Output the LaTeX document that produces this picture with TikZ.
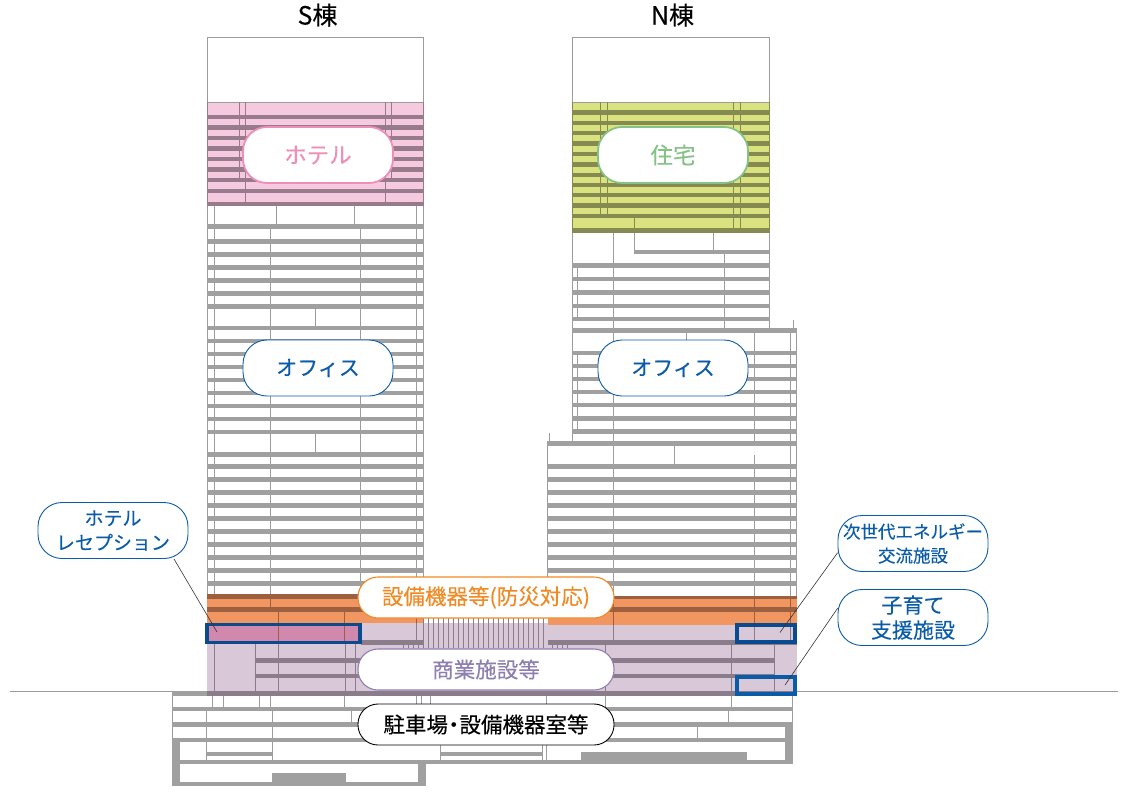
\documentclass[tikz,border=0pt]{standalone}
\usepackage{fontspec}
\setmainfont{Noto Sans CJK JP}[FakeBold=0.25]
\definecolor{bandgray}{HTML}{A0A0A0}
\definecolor{wallgray}{HTML}{9C9C9C}
\definecolor{hotelpink}{HTML}{F5C9DE}
\definecolor{hotelband}{HTML}{977A8C}
\definecolor{hotelline}{HTML}{EE8FB9}
\definecolor{homegreen}{HTML}{D9E27F}
\definecolor{homeband}{HTML}{858A50}
\definecolor{homeline}{HTML}{86C285}
\definecolor{plantorange}{HTML}{F19561}
\definecolor{plantband}{HTML}{9C5F40}
\definecolor{plantline}{HTML}{F08A24}
\definecolor{shopmauve}{HTML}{D9C8D8}
\definecolor{shopband}{HTML}{8B7C8B}
\definecolor{shopline}{HTML}{8E7FB0}
\definecolor{deskpink}{HTML}{D088AC}
\definecolor{officeblue}{HTML}{0B5CA8}
\definecolor{darkblue}{HTML}{0A4A8F}
\begin{document}
\begin{tikzpicture}[x=1pt,y=-1pt]
        \useasboundingbox (0,0) rectangle (1129,796);
        \begin{scope}
            \tikzset{wall/.style = {
                draw=wallgray,
                line width=0.8pt} }
            \tikzset{band/.style = {
                draw=bandgray,
                line width=4.7pt} }
            \tikzset{pill/.style = {
                draw,
                fill=white,
                rounded corners=24pt,
                minimum width=150pt,
                minimum height=56pt,
                inner sep=0pt,
                align=center,
                font=\fontsize{21}{25}\selectfont} }
            \tikzset{widepill/.style = {
                pill,
                rounded corners=20pt,
                minimum width=256pt,
                minimum height=41pt} }
            \tikzset{marker/.style = {
                draw=officeblue,
                line width=3.2pt} }
            \tikzset{leader/.style = {
                draw=black!80,
                line width=0.6pt} }
                % ground line
                \draw[draw=wallgray, line width=0.7pt] (10,691) -- (1118,691);
                % coloured floors
                \fill[shopmauve] (207,623) rectangle (797,696);
                \fill[hotelpink] (207.3,102) rectangle (423.5,206);
                \fill[homegreen] (572.3,102.5) rectangle (769.5,232.5);
                \fill[plantorange] (207.3,594.5) rectangle (423.5,623);
                \fill[plantorange] (547.5,596) rectangle (796.7,625);
                \fill[deskpink] (207,624) rectangle (361,643);
                % S tower
                \foreach \x/\a/\b in {207.3/37/594,423.5/37/594,214.3/206/594,416.3/206/594,276.3/206/224,354.3/206/224,
                    270.3/224/594,360.3/224/594,315.3/309/326,315.3/434/452}{
                    \draw[wall] (\x,\a) -- (\x,\b);
                }
                \draw[wall] (207.3,37) -- (423.5,37);
                \draw[wall] (207.3,102) -- (423.5,102);
                \foreach \y in {226.5,241.5,254.5,267.5,280.5,293.5,306.5,328,341,354,367,380,393,406,419,432,
                    454.5,466.5,479.5,492.5,505.5,518.5,531.5,544.5,557.5,570.5,583.5}{
                    \draw[band] (207,\y) -- (423.5,\y);
                }
                % hotel floors
                \foreach \x/\a/\b in {207.3/102/206,423.5/102/206,239.5/102/178,391.5/102/178,245.5/102/204,385.5/102/204}{
                    \draw[wall, draw=hotelband] (\x,\a) -- (\x,\b);
                }
                \foreach \y in {117,127.5,138,148.5,159,169.5,180,191,204}{
                    \draw[band, draw=hotelband] (207,\y) -- (423.5,\y);
                }
                % N tower
                \foreach \x/\a/\b in {572.3/37/441,769.5/37/328,613.3/232/594,634.7/232/250,713.3/232/250,724.3/254/328,577.3/268/317,
                    793.3/320/328,796.7/328/596,790.7/333/596,754.7/333/441,754.7/455/596,686.7/333/351,577.3/355/429,
                    549.3/433/441,547.3/446/596,674.3/446/464}{
                    \draw[wall] (\x,\a) -- (\x,\b);
                }
                \draw[wall] (572.3,37) -- (769.5,37);
                \draw[wall] (572.3,102) -- (769.5,102);
                \draw[band] (634,252) -- (769.5,252);
                \foreach \y in {265.5,279,292.5,306,319}{
                    \draw[band] (572.3,\y) -- (769.5,\y);
                }
                \foreach \y in {330.5,353,366,379,392,405,418.5}{
                    \draw[band] (572.3,\y) -- (796.7,\y);
                }
                \draw[band] (572.3,431.5) -- (796.7,431.5);
                \foreach \y in {443.5,466.5,479.5,492.5,505.5,518.5,531.5,544.5,557.5,570.5,583.5}{
                    \draw[band] (547.3,\y) -- (796.7,\y);
                }
                % housing floors
                \foreach \x/\a/\b in {572.3/102/232,769.5/102/232,600.3/102/214,607.7/102/214,733.7/102/228,740.3/102/228,634.7/216/228}{
                    \draw[wall, draw=homeband] (\x,\a) -- (\x,\b);
                }
                \foreach \y in {112.5,123,133,143.5,154,164.5,175,185,195,205.5,216,230.3}{
                    \draw[band, draw=homeband] (572.3,\y) -- (769.5,\y);
                }
                % plant floors
                \foreach \x/\a/\b in {270.3/594/612,278.3/612/643,344.3/612/643,416.3/594/623,423.5/594/623,613.3/596/625,754.7/596/625,790.7/596/625}{
                    \draw[wall, draw=plantband] (\x,\a) -- (\x,\b);
                }
                \foreach \x/\a/\b/\y in {207.3/423.5/596.5/4.5,207.3/423.5/609.5/4.5,547.5/796.7/597.5/3.5,547.5/796.7/609.5/4.5}{
                    \draw[band, draw=plantband, line width=\y pt] (\x,\b) -- (\a,\b);
                }
                % shop floors
                \foreach \x/\a/\b in {214.3/644/691,255.3/644/691,278.3/644/691,345.3/644/691,355.3/644/691,416.3/623/644,
                    613.3/625/641,754.7/625/641,790.7/625/641,605.7/644/691,731.7/644/691,774.3/644/691,
                    403/644/648,408/644/648,413/644/648,418/644/648,552/644/648,557/644/648,562/644/648,567/644/648}{
                    \draw[wall, draw=shopband] (\x,\a) -- (\x,\b);
                }
                \foreach \k in {0,...,24}{
                    \draw[wall, draw=shopband] (423+5*\k,618) -- (423+5*\k,648);
                }
                \foreach \x/\a/\y in {361/423.5/642.5,547.5/797/642.5,255.3/774.3/660.5,255.3/774.3/676,207/797/693.5}{
                    \draw[band, draw=shopband] (\x,\y) -- (\a,\y);
                }
                % basement
                \foreach \x/\a/\b in {172.5/691/738,792.5/696/722,212.3/696/707,223.3/696/707,259.3/696/707,270.3/696/707,344.3/696/707,
                    416.3/696/707,421.3/696/707,430.3/696/707,546.7/696/760,605.7/696/707,731.7/696/707,
                    206.3/707/760,272.3/707/760,351.7/707/722,728.3/707/722,697.7/727/738,440.7/742/760,542.7/745/760}{
                    \draw[wall] (\x,\a) -- (\x,\b);
                }
                \foreach \x/\a/\y in {172/207/693.5,172/793/709,172/793/724.5,172/785/740,206.3/272.3/754,440.7/542.7/754}{
                    \draw[band] (\x,\y) -- (\a,\y);
                }
                \fill[bandgray] (172,738) rectangle (180,786);
                \fill[bandgray] (172,760) rectangle (793,764);
                \fill[bandgray] (172,782) rectangle (426,786);
                \fill[bandgray] (418,760) rectangle (426,786);
                \fill[bandgray] (785,722) rectangle (793,764);
                \fill[bandgray] (272,773) rectangle (346,782);
                \fill[bandgray] (581,752) rectangle (747,760);
                % markers
                \node[marker, draw=darkblue, inner sep=0pt, minimum width=153pt, minimum height=18pt] (deskbox) at (283.5,633.5) {};
                \node[marker, draw=darkblue, inner sep=0pt, minimum width=58pt, minimum height=17pt] (energybox) at (766,633.5) {};
                \node[marker, inner sep=0pt, minimum width=58pt, minimum height=17pt] (carebox) at (766,685.5) {};
                % labels
                \node[pill, draw=hotelline, line width=1.8pt, text=hotelline, font=\fontsize{22.5}{26}\selectfont] (hotel) at (318,155) {\raisebox{-1pt}{ホテル}};
                \node[pill, draw=homeline, line width=1.8pt, text=homeline, font=\fontsize{22.5}{26}\selectfont] (home) at (673,155) {\raisebox{-1pt}{住宅}};
                \node[pill, draw=officeblue, line width=0.9pt, text=officeblue] (officeS) at (318,368) {\raisebox{-1pt}{オフィス}};
                \node[pill, draw=officeblue, line width=0.9pt, text=officeblue] (officeN) at (673,368) {\raisebox{-1pt}{オフィス}};
                \node[pill, draw=officeblue, line width=0.9pt, text=officeblue, font=\fontsize{19}{24.5}\selectfont] (desk) at (113,530.5) {ホテル\\レセプション};
                \node[pill, draw=officeblue, line width=0.9pt, text=officeblue, font=\fontsize{17.5}{24}\selectfont] (energy) at (913,543.5) {次世代エネルギー\\交流施設};
                \node[pill, draw=officeblue, line width=0.9pt, text=officeblue] (care) at (913,617.5) {子育て\\支援施設};
                \node[widepill, draw=plantline, line width=1.1pt, text=plantline, font=\fontsize{21.5}{25}\selectfont] (plant) at (486,597.5) {\raisebox{-1pt}{設備機器等(防災対応)}};
                \node[widepill, draw=shopline, line width=1.1pt, text=shopline, font=\fontsize{21.5}{25}\selectfont] (shop) at (486,669.5) {\raisebox{-1pt}{商業施設等}};
                \node[widepill, draw=black, line width=0.9pt, text=black, font=\fontsize{21.5}{25}\selectfont] (park) at (486,724.5) {\raisebox{-1pt}{駐車場\kern-5pt・\kern-5pt設備機器室等}};
                \node[font=\fontsize{25}{28}\selectfont] (towerS) at (317.5,15) {S棟};
                \node[font=\fontsize{25}{28}\selectfont] (towerN) at (672.5,15) {N棟};
                % leaders
                \coordinate (desktip) at (217,632);
                \coordinate (energytip) at (780,632.5);
                \coordinate (caretip) at (785,685);
                \path[leader] (desk.-25) -- (desktip);
                \path[leader] (energy.187) -- (energytip);
                \path[leader] (care.173) -- (caretip);
        \end{scope}
    \end{tikzpicture}
\end{document}
